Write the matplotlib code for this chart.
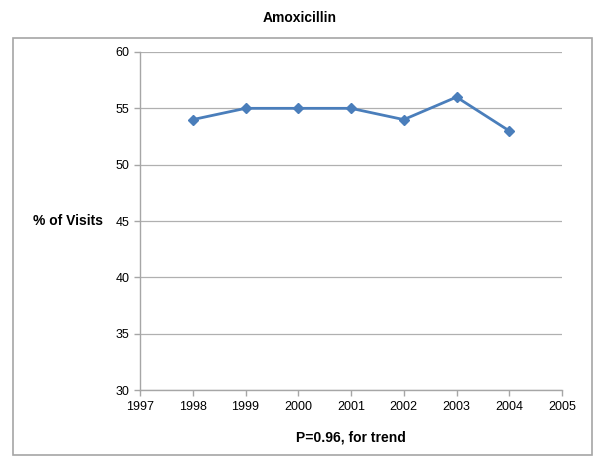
import matplotlib
matplotlib.use("Agg")
import matplotlib.pyplot as plt
from matplotlib.patches import Rectangle

plt.rcParams['font.family'] = ['Liberation Sans', 'DejaVu Sans']

years = [1998, 1999, 2000, 2001, 2002, 2003, 2004]
pct_visits = [54, 55, 55, 55, 54, 56, 53]
x_ticks = list(range(1997, 2006))
y_ticks = [30, 35, 40, 45, 50, 55, 60]

fig = plt.figure(figsize=(6, 4.65), dpi=100)
W, H = 600, 465
ax = fig.add_axes([140 / W, 1 - 390 / H, (562 - 140) / W, (390 - 52) / H])

# outer chart border
fig.patches.append(Rectangle((13 / W, 1 - 455 / H), (592 - 13) / W, (455 - 38) / H,
                             transform=fig.transFigure, fill=False,
                             edgecolor='#a6a6a6', linewidth=1.2))

ax.plot(years, pct_visits, color='#4a7ebb', linewidth=2, marker='D',
        markersize=5, zorder=3)

ax.set_xlim(1997, 2005)
ax.set_ylim(30, 60)
ax.set_xticks(x_ticks)
ax.set_yticks(y_ticks)
ax.yaxis.grid(True, color='#b0b0b0', linewidth=0.9)
ax.set_axisbelow(True)
for s in ['top', 'right']:
    ax.spines[s].set_visible(False)
for s in ['left', 'bottom']:
    ax.spines[s].set_color('#a6a6a6')
    ax.spines[s].set_linewidth(1)
ax.tick_params(axis='both', colors='#a6a6a6', labelcolor='black',
               labelsize=9, length=4, width=1)
ax.tick_params(axis='x', pad=4)

fig.text(300 / W, 1 - 18 / H, 'Amoxicillin', ha='center', va='center',
         fontsize=10, fontweight='bold')
fig.text(351 / W, 1 - 437 / H, 'P=0.96, for trend', ha='center', va='center',
         fontsize=10, fontweight='bold')
fig.text(33 / W, 1 - 221 / H, '% of Visits', ha='left', va='center',
         fontsize=10, fontweight='bold')

fig.savefig('out.png', dpi=100)
